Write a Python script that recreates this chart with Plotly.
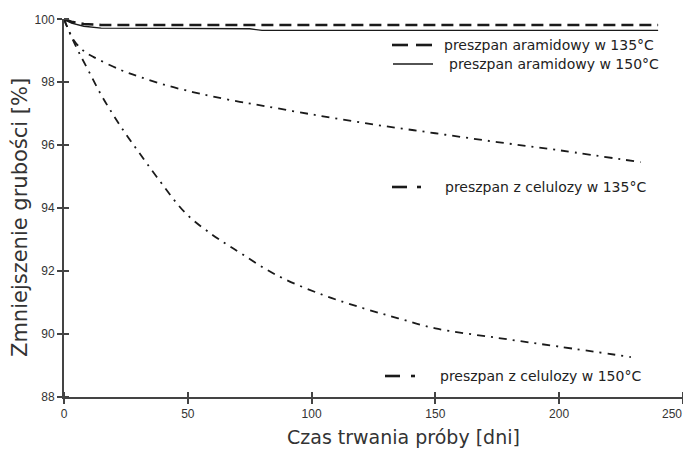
import plotly.graph_objects as go

# --- data ---
aramid135_x = [0, 3, 8, 15, 60, 120, 180, 240]
aramid135_y = [100.0, 99.92, 99.85, 99.82, 99.82, 99.82, 99.82, 99.82]

aramid150_x = [0, 3, 8, 15, 40, 75, 80, 150, 240]
aramid150_y = [100.0, 99.88, 99.78, 99.72, 99.71, 99.70, 99.65, 99.65, 99.65]

cel135_x = [0, 4, 8.5, 12, 22.6, 30.7, 41.5, 52, 60, 71, 77, 100, 125, 150, 175, 200, 233]
cel135_y = [100.0, 99.33, 98.96, 98.8, 98.4, 98.17, 97.9, 97.69, 97.55, 97.38, 97.3,
            96.98, 96.66, 96.38, 96.1, 95.84, 95.46]

cel150_x = [0, 3, 6, 10, 15, 20, 25, 30, 37.4, 49, 60, 68.4, 85.9, 104.7, 120.9, 135,
            150, 175, 200, 229]
cel150_y = [100.0, 99.45, 98.95, 98.35, 97.6, 96.95, 96.35, 95.8, 95.0, 93.85, 93.15,
            92.72, 91.87, 91.24, 90.82, 90.5, 90.18, 89.88, 89.6, 89.27]

labels = ["preszpan aramidowy w 135°C", "preszpan aramidowy w 150°C",
          "preszpan z celulozy w 135°C", "preszpan z celulozy w 150°C"]

x_title = "Czas trwania próby [dni]"
y_title = "Zmniejszenie grubości [%]"
x_ticks = [0, 50, 100, 150, 200, 250]
x_ticklabels = ["0", "50", "100", "150", "200", "250"]
y_ticks = [88, 90, 92, 94, 96, 98, 100]

LINE = "#1a1a1a"
AX = "#444444"
FONT = "DejaVu Sans"
TICKFONT = dict(family="Liberation Sans", size=12, color="#333")

fig = go.Figure()
fig.add_trace(go.Scatter(x=aramid135_x, y=aramid135_y, mode="lines",
                         line=dict(color=LINE, width=2.6, dash="12px,6px")))
fig.add_trace(go.Scatter(x=aramid150_x, y=aramid150_y, mode="lines",
                         line=dict(color=LINE, width=1.3)))
fig.add_trace(go.Scatter(x=cel135_x, y=cel135_y, mode="lines", line_shape="spline",
                         line=dict(color=LINE, width=1.8, dash="8px,6px,2px,6px")))
fig.add_trace(go.Scatter(x=cel150_x, y=cel150_y, mode="lines", line_shape="spline",
                         line=dict(color=LINE, width=1.8, dash="8px,6px,2px,6px")))

# the page has an 8px body margin; figure is shrunk accordingly
OFF = 8
W, H = 691 - OFF, 452 - OFF
L, T = 64 - OFF, 19 - OFF
R = W - (683 - OFF)
B = H - (397 - OFF)
pw, ph = W - L - R, H - T - B

def px(x):  # reference page pixel -> paper fraction
    return (x - OFF - L) / pw

def py(y):
    return 1 - (y - OFF - T) / ph

legend_items = [
    (labels[0], 442, 45, [(392, 408), (416, 432)], 2.6),
    (labels[1], 447, 64, [(393, 433)], 1.3),
    (labels[2], 443, 187, [(392, 407), (417, 421)], 2.6),
    (labels[3], 438, 376, [(385, 400), (411, 415)], 2.6),
]
for text, tx, ty, segs, w in legend_items:
    fig.add_annotation(x=px(tx), y=py(ty), xref="paper", yref="paper", text=text,
                       showarrow=False, xanchor="left", yanchor="middle",
                       font=dict(family=FONT, size=14, color="#222"))
    for a, b in segs:
        fig.add_shape(type="line", xref="paper", yref="paper",
                      x0=px(a), x1=px(b), y0=py(ty), y1=py(ty),
                      line=dict(color=LINE, width=w))

# axis titles
fig.add_annotation(x=px(404), y=py(437), xref="paper", yref="paper", text=x_title,
                   showarrow=False, xanchor="center", yanchor="middle",
                   font=dict(family=FONT, size=19, color="#333"))
fig.add_annotation(x=px(20), y=py(218), xref="paper", yref="paper", text=y_title,
                   showarrow=False, xanchor="center", yanchor="middle", textangle=-90,
                   font=dict(family=FONT, size=21, color="#333"))

# last x tick label placed as right-anchored text so it stays inside the window
fig.add_annotation(x=x_ticks[-1], xref="x", y=py(414), yref="paper", text=x_ticklabels[-1],
                   showarrow=False, xanchor="right", yanchor="middle", xshift=1,
                   font=TICKFONT)

fig.update_layout(
    width=W, height=H,
    margin=dict(l=L, r=R, t=T, b=B),
    paper_bgcolor="white", plot_bgcolor="white",
    showlegend=False,
    font=dict(family=FONT, color="#333"),
)
eps_x = 0.01
eps_y = 0.0005
fig.update_xaxes(range=[-0.01, 250.05], tickvals=x_ticks,
                 ticktext=x_ticklabels[:-1] + [""],
                 showgrid=False, zeroline=False,
                 showline=True, linecolor=AX, linewidth=2, ticks="outside", ticklen=5,
                 tickcolor=AX, tickwidth=1.5, automargin=False,
                 minor=dict(tickvals=[v + eps_x for v in x_ticks[:-1]] + [x_ticks[-1] - eps_x],
                            ticks="inside", ticklen=5, tickcolor=AX, tickwidth=1.5,
                            showgrid=False),
                 tickfont=TICKFONT)
fig.update_yaxes(range=[88, 100.01], tickvals=y_ticks, showgrid=False, zeroline=False,
                 showline=True, linecolor=AX, linewidth=2, ticks="outside", ticklen=5,
                 tickcolor=AX, tickwidth=1.5, automargin=False, ticklabeloverflow="allow",
                 minor=dict(tickvals=[v + eps_y for v in y_ticks[:-1]] + [y_ticks[-1] - eps_y],
                            ticks="inside", ticklen=5, tickcolor=AX, tickwidth=1.5,
                            showgrid=False),
                 tickfont=TICKFONT)

fig.write_html("out.html")
